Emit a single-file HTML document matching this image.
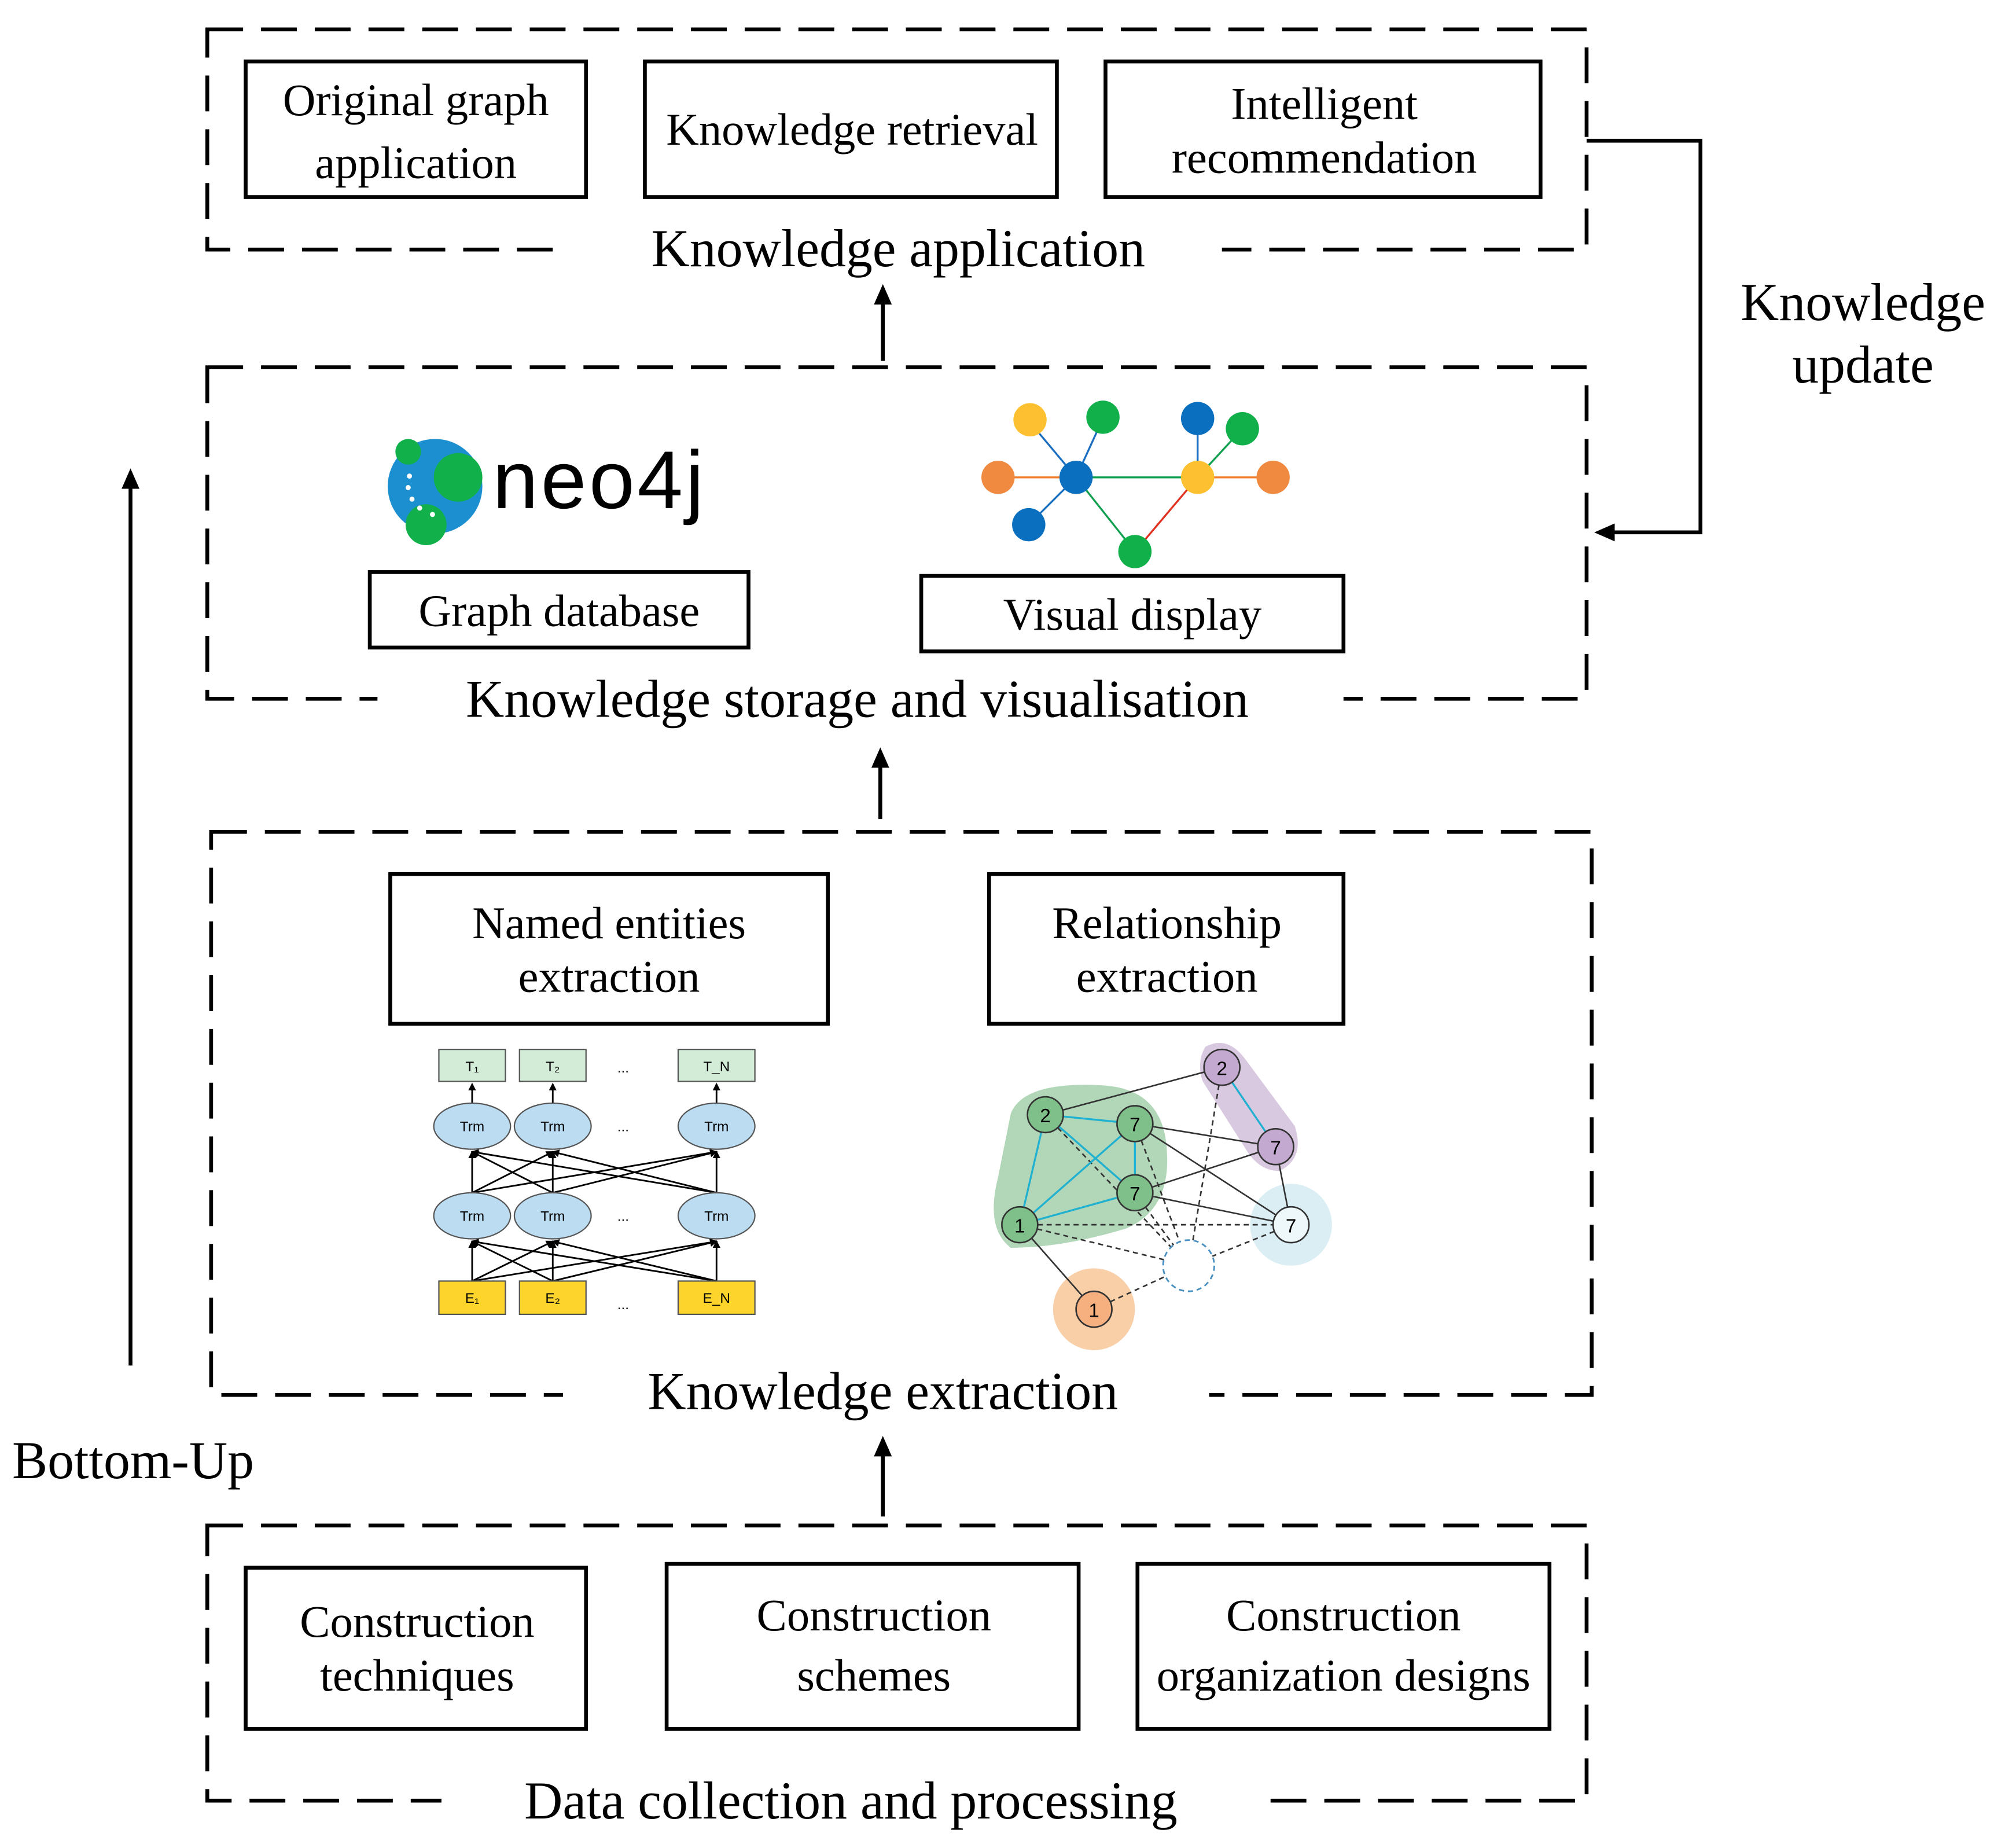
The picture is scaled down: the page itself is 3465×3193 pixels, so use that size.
<!DOCTYPE html>
<html><head><meta charset="utf-8"><style>
html,body{margin:0;padding:0;background:#fff;}
svg{display:block;}
text{font-family:"Liberation Serif",serif;fill:#000;}
.s{font-family:"Liberation Sans",sans-serif;}
</style></head><body>
<svg width="3465" height="3193" viewBox="0 0 1567 1444" xmlns="http://www.w3.org/2000/svg">
<defs>
<marker id="ah" markerWidth="16" markerHeight="16" refX="10" refY="7" orient="auto" markerUnits="userSpaceOnUse" viewBox="0 0 16 14"><path d="M0,0 L16,7 L0,14 z" fill="#000"/></marker>
<marker id="sa" markerWidth="6" markerHeight="6" refX="5" refY="3" orient="auto" markerUnits="userSpaceOnUse"><path d="M0,0 L6,3 L0,6 z" fill="#000"/></marker>
</defs>
<g fill="none" stroke="#000" stroke-width="3" stroke-dasharray="28,14">
<rect x="162" y="23" width="1078" height="172"/>
<rect x="162" y="287" width="1078" height="259"/>
<rect x="165" y="650" width="1079" height="440"/>
<rect x="162" y="1192" width="1078" height="215"/>
</g>
<g fill="#fff">
<rect x="440" y="180" width="515" height="30"/>
<rect x="295" y="530" width="755" height="30"/>
<rect x="440" y="1075" width="505" height="30"/>
<rect x="345" y="1392" width="635" height="30"/>
</g>
<g font-size="41.5" text-anchor="middle">
<text x="702" y="208">Knowledge application</text>
<text x="670" y="560">Knowledge storage and visualisation</text>
<text x="690" y="1101">Knowledge extraction</text>
<text x="665" y="1421">Data collection and processing</text>
<text x="1456" y="250">Knowledge</text>
<text x="1456" y="299">update</text>
<text x="104" y="1155">Bottom-Up</text>
</g>
<g fill="none" stroke="#000" stroke-width="3">
<rect x="192" y="48" width="266" height="106"/>
<rect x="504" y="48" width="322" height="106"/>
<rect x="864" y="48" width="340" height="106"/>
<rect x="289" y="447" width="296" height="59"/>
<rect x="720" y="450" width="330" height="59"/>
<rect x="305" y="683" width="342" height="117"/>
<rect x="773" y="683" width="277" height="117"/>
<rect x="192" y="1225" width="266" height="126"/>
<rect x="521" y="1222" width="322" height="129"/>
<rect x="889" y="1222" width="322" height="129"/>
<line x1="690" y1="282" x2="690" y2="228" marker-end="url(#ah)"/>
<line x1="688" y1="640" x2="688" y2="590" marker-end="url(#ah)"/>
<line x1="690" y1="1185" x2="690" y2="1128" marker-end="url(#ah)"/>
<line x1="102" y1="1067" x2="102" y2="372" marker-end="url(#ah)"/>
<polyline points="1240,110 1329,110 1329,416 1252,416" marker-end="url(#ah)"/>
</g>
<g font-size="35.5" text-anchor="middle">
<text x="325" y="90">Original graph</text>
<text x="325" y="139">application</text>
<text x="666" y="113">Knowledge retrieval</text>
<text x="1035" y="93">Intelligent</text>
<text x="1035" y="135">recommendation</text>
<text x="437" y="489">Graph database</text>
<text x="885" y="492">Visual display</text>
<text x="476" y="733">Named entities</text>
<text x="476" y="775">extraction</text>
<text x="912" y="733">Relationship</text>
<text x="912" y="775">extraction</text>
<text x="326" y="1279">Construction</text>
<text x="326" y="1321">techniques</text>
<text x="683" y="1274">Construction</text>
<text x="683" y="1321">schemes</text>
<text x="1050" y="1274">Construction</text>
<text x="1050" y="1321">organization designs</text>
</g>
<!-- neo4j -->
<circle cx="340" cy="380" r="37" fill="#1c8fd0"/>
<circle cx="358" cy="373" r="19" fill="#11b04a"/>
<circle cx="333" cy="410" r="16" fill="#11b04a"/>
<circle cx="319" cy="353" r="10" fill="#11b04a"/>
<g fill="#fff"><circle cx="320" cy="372" r="2"/><circle cx="319" cy="381" r="2"/><circle cx="322" cy="390" r="2"/><circle cx="328" cy="397" r="2"/><circle cx="338" cy="402" r="2"/></g>
<text x="385" y="397" font-size="64" class="s" fill="#222" textLength="165">neo4j</text>
<!-- visual graph -->
<g stroke-width="1.5">
<line x1="841" y1="373" x2="805" y2="330" stroke="#1c6fc0"/>
<line x1="841" y1="373" x2="862" y2="327" stroke="#1c6fc0"/>
<line x1="841" y1="373" x2="781" y2="373" stroke="#f08030"/>
<line x1="841" y1="373" x2="804" y2="410" stroke="#1c6fc0"/>
<line x1="841" y1="373" x2="936" y2="373" stroke="#11a050"/>
<line x1="841" y1="373" x2="887" y2="431" stroke="#11a050"/>
<line x1="936" y1="373" x2="936" y2="327" stroke="#1c6fc0"/>
<line x1="936" y1="373" x2="971" y2="335" stroke="#11a050"/>
<line x1="936" y1="373" x2="995" y2="373" stroke="#f08030"/>
<line x1="887" y1="431" x2="936" y2="373" stroke="#e03020"/>
</g>
<circle cx="841" cy="373" r="13" fill="#0a6fbf"/>
<circle cx="805" cy="328" r="13" fill="#fdc030"/>
<circle cx="862" cy="326" r="13" fill="#11b04a"/>
<circle cx="780" cy="373" r="13" fill="#f08a40"/>
<circle cx="804" cy="410" r="13" fill="#0a6fbf"/>
<circle cx="936" cy="373" r="13" fill="#fdc030"/>
<circle cx="936" cy="327" r="13" fill="#0a6fbf"/>
<circle cx="971" cy="335" r="13" fill="#11b04a"/>
<circle cx="995" cy="373" r="13" fill="#f08a40"/>
<circle cx="887" cy="431" r="13" fill="#11b04a"/>
<!-- BERT -->
<g stroke="#000" stroke-width="1.3" marker-end="url(#sa)">
<line x1="369" y1="862" x2="369" y2="847"/><line x1="432" y1="862" x2="432" y2="847"/><line x1="560" y1="862" x2="560" y2="847"/>
<line x1="369" y1="1001" x2="369" y2="970"/><line x1="369" y1="1001" x2="432" y2="970"/><line x1="369" y1="1001" x2="560" y2="970"/>
<line x1="432" y1="1001" x2="369" y2="970"/><line x1="432" y1="1001" x2="432" y2="970"/><line x1="432" y1="1001" x2="560" y2="970"/>
<line x1="560" y1="1001" x2="369" y2="970"/><line x1="560" y1="1001" x2="432" y2="970"/><line x1="560" y1="1001" x2="560" y2="970"/>
<line x1="369" y1="932" x2="369" y2="900"/><line x1="369" y1="932" x2="432" y2="900"/><line x1="369" y1="932" x2="560" y2="900"/>
<line x1="432" y1="932" x2="369" y2="900"/><line x1="432" y1="932" x2="432" y2="900"/><line x1="432" y1="932" x2="560" y2="900"/>
<line x1="560" y1="932" x2="369" y2="900"/><line x1="560" y1="932" x2="432" y2="900"/><line x1="560" y1="932" x2="560" y2="900"/>
</g>
<g stroke="#555" stroke-width="1">
<rect x="343" y="820" width="52" height="25" fill="#d2ecd8"/><rect x="406" y="820" width="52" height="25" fill="#d2ecd8"/><rect x="530" y="820" width="60" height="25" fill="#d2ecd8"/>
<ellipse cx="369" cy="880" rx="30" ry="18" fill="#bcdcf2"/><ellipse cx="432" cy="880" rx="30" ry="18" fill="#bcdcf2"/><ellipse cx="560" cy="880" rx="30" ry="18" fill="#bcdcf2"/>
<ellipse cx="369" cy="950" rx="30" ry="18" fill="#bcdcf2"/><ellipse cx="432" cy="950" rx="30" ry="18" fill="#bcdcf2"/><ellipse cx="560" cy="950" rx="30" ry="18" fill="#bcdcf2"/>
<rect x="343" y="1001" width="52" height="26" fill="#fcd42c"/><rect x="406" y="1001" width="52" height="26" fill="#fcd42c"/><rect x="530" y="1001" width="60" height="26" fill="#fcd42c"/>
</g>
<g class="s" font-size="11" text-anchor="middle" fill="#333">
<text x="369" y="837" class="s">T₁</text><text x="432" y="837" class="s">T₂</text><text x="560" y="837" class="s">T_N</text>
<text x="369" y="884" class="s">Trm</text><text x="432" y="884" class="s">Trm</text><text x="560" y="884" class="s">Trm</text>
<text x="369" y="954" class="s">Trm</text><text x="432" y="954" class="s">Trm</text><text x="560" y="954" class="s">Trm</text>
<text x="369" y="1018" class="s">E₁</text><text x="432" y="1018" class="s">E₂</text><text x="560" y="1018" class="s">E_N</text>
<text x="487" y="838" class="s">...</text><text x="487" y="884" class="s">...</text><text x="487" y="954" class="s">...</text><text x="487" y="1023" class="s">...</text>
</g>
<!-- relationship graph -->
<path d="M790,870 Q800,845 860,848 Q910,850 912,900 Q915,945 880,960 Q830,975 790,975 Q770,960 780,920 Z" fill="#a9d3b0" opacity="0.9"/>
<path d="M942,818 Q960,808 975,830 L1012,880 Q1020,905 1000,915 Q985,915 975,900 L940,845 Q935,830 942,818 Z" fill="#d8c8e0"/>
<circle cx="1009" cy="957" r="32" fill="#daeef4"/>
<circle cx="855" cy="1023" r="32" fill="#f9cfa8"/>
<g stroke="#333" stroke-width="1.2" fill="none">
<line x1="817" y1="871" x2="955" y2="834"/><line x1="887" y1="878" x2="997" y2="896"/><line x1="887" y1="878" x2="1009" y2="957"/>
<line x1="887" y1="932" x2="997" y2="896"/><line x1="887" y1="932" x2="1009" y2="957"/><line x1="997" y1="896" x2="1009" y2="957"/>
<line x1="797" y1="957" x2="855" y2="1023"/>
</g>
<g stroke="#333" stroke-width="1.2" stroke-dasharray="4,3" fill="none">
<line x1="797" y1="957" x2="929" y2="989"/><line x1="817" y1="871" x2="929" y2="989"/><line x1="887" y1="878" x2="929" y2="989"/>
<line x1="887" y1="932" x2="929" y2="989"/><line x1="955" y1="834" x2="929" y2="989"/><line x1="1009" y1="957" x2="929" y2="989"/>
<line x1="855" y1="1023" x2="929" y2="989"/><line x1="797" y1="957" x2="1009" y2="957"/>
</g>
<g stroke="#20b0d0" stroke-width="1.5">
<line x1="817" y1="871" x2="887" y2="878"/><line x1="817" y1="871" x2="887" y2="932"/><line x1="817" y1="871" x2="797" y2="957"/>
<line x1="887" y1="878" x2="797" y2="957"/><line x1="887" y1="878" x2="887" y2="932"/><line x1="797" y1="957" x2="887" y2="932"/>
<line x1="955" y1="834" x2="997" y2="896"/>
</g>
<g stroke="#333" stroke-width="1.2">
<circle cx="817" cy="871" r="14" fill="#7fbf8a"/><circle cx="887" cy="878" r="14" fill="#7fbf8a"/><circle cx="887" cy="932" r="14" fill="#7fbf8a"/><circle cx="797" cy="957" r="14" fill="#7fbf8a"/>
<circle cx="955" cy="834" r="14" fill="#c3a8d0"/><circle cx="997" cy="896" r="14" fill="#c3a8d0"/>
<circle cx="1009" cy="957" r="14" fill="#eef8fa"/><circle cx="855" cy="1023" r="14" fill="#f6b080"/>
</g>
<circle cx="929" cy="989" r="20" fill="#fff" stroke="#4a90c0" stroke-width="1.3" stroke-dasharray="4,3"/>
<g class="s" font-size="15" text-anchor="middle">
<text x="817" y="877" class="s">2</text><text x="887" y="884" class="s">7</text><text x="887" y="938" class="s">7</text><text x="797" y="963" class="s">1</text>
<text x="955" y="840" class="s">2</text><text x="997" y="902" class="s">7</text><text x="1009" y="963" class="s">7</text><text x="855" y="1029" class="s">1</text>
</g>
</svg>
</body></html>
